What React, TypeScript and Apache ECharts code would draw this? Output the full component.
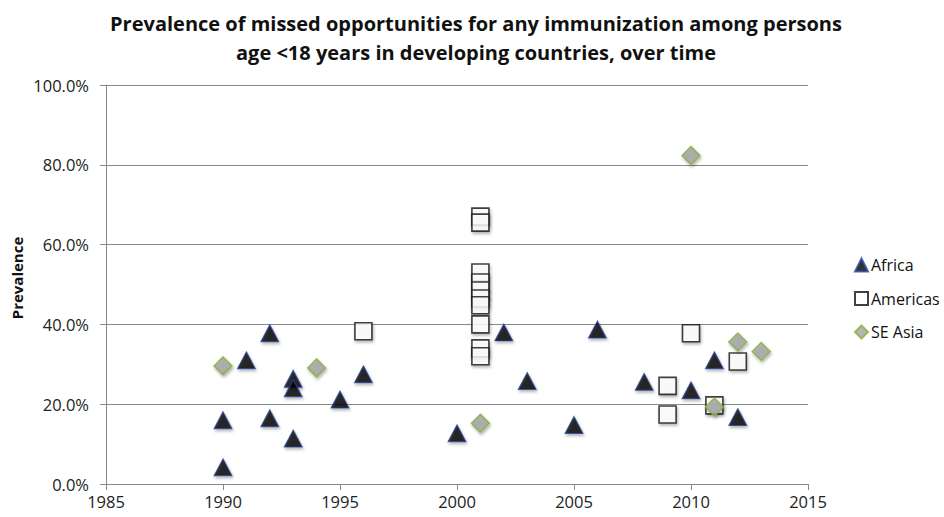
import React, { useEffect, useRef } from "react";
import * as echarts from "echarts";

const title = "Prevalence of missed opportunities for any immunization among persons\nage <18 years in developing countries, over time";
const yAxisName = "Prevalence";
const xTicks = [1985, 1990, 1995, 2000, 2005, 2010, 2015];

// [year, prevalence %]
const africa: [number, number][] = [
  [1990, 16.0], [1990, 4.2], [1991, 31.0], [1992, 37.8], [1992, 16.5],
  [1993, 26.4], [1993, 24.0], [1993, 11.4], [1995, 21.2], [1996, 27.5],
  [2000, 12.7], [2002, 38.0], [2003, 25.8], [2005, 14.8], [2006, 38.7],
  [2008, 25.6], [2010, 23.5], [2011, 31.0], [2012, 16.8],
];
const americas: [number, number][] = [
  [1996, 38.3], [2001, 67.0], [2001, 65.5], [2001, 53.0], [2001, 50.5],
  [2001, 48.5], [2001, 46.5], [2001, 44.8], [2001, 40.0], [2001, 34.0],
  [2001, 32.0], [2009, 24.6], [2009, 17.4], [2010, 37.8], [2011, 19.7],
  [2012, 30.7],
];
const seAsia: [number, number][] = [
  [1990, 29.6], [1994, 29.1], [2001, 15.2], [2010, 82.3], [2011, 19.3],
  [2012, 35.6], [2013, 33.2],
];

export default function App() {
  const ref = useRef<HTMLDivElement>(null);
  useEffect(() => {
    if (!ref.current) return;
    const chart = echarts.init(ref.current, null, { renderer: "svg" });
    const font = "'Open Sans', 'Liberation Sans', sans-serif";
    const shadow = { shadowBlur: 3, shadowOffsetX: 1, shadowOffsetY: 2, shadowColor: "rgba(0,0,0,0.35)" };
    chart.setOption({
      animation: false,
      backgroundColor: "#fff",
      textStyle: { fontFamily: font },
      title: {
        text: title,
        left: 471,
        textAlign: "center",
        top: 4,
        textStyle: { fontFamily: font, fontWeight: "bold", fontSize: 20, lineHeight: 29, color: "#111" },
      },
      graphic: [
        {
          type: "text",
          x: 17,
          y: 278,
          rotation: Math.PI / 2,
          style: {
            text: yAxisName,
            fontFamily: font,
            fontWeight: "bold",
            fontSize: 15,
            fill: "#111",
            align: "center",
            verticalAlign: "middle",
          },
        },
      ],
      grid: { left: 106, right: 136, top: 85, bottom: 33 },
      xAxis: {
        type: "value",
        min: 1985,
        max: 2015,
        interval: 5,
        axisLine: { show: true, lineStyle: { color: "#888", width: 1 } },
        axisTick: { show: true, length: 6, lineStyle: { color: "#888" } },
        splitLine: { show: false },
        axisLabel: {
          color: "#222", fontSize: 16.5, margin: 9, fontFamily: font,
          formatter: (v: number) => (xTicks.includes(v) ? String(v) : ""),
        },
      },
      yAxis: {
        type: "value",
        min: 0,
        max: 100,
        interval: 20,
        axisLine: { show: true, lineStyle: { color: "#888", width: 1 } },
        axisTick: { show: true, length: 6, lineStyle: { color: "#888" } },
        splitLine: { show: true, lineStyle: { color: "#888", width: 1 } },
        axisLabel: {
          color: "#222", fontSize: 16.5, margin: 17, fontFamily: font,
          formatter: (v: number) => v.toFixed(1) + "%",
        },
      },
      legend: {
        orient: "vertical",
        left: 849,
        top: 252,
        itemGap: 17.5,
        itemWidth: 13,
        itemHeight: 13,
        textStyle: { fontSize: 16, color: "#111", fontFamily: font, padding: [0, 0, 0, -2] },
        data: ["Africa", "Americas", "SE Asia"],
      },
      series: [
        {
          name: "Americas",
          type: "scatter",
          data: americas,
          symbol: "rect",
          symbolSize: 17,
          itemStyle: { color: "#fff", borderColor: "#111", borderWidth: 1.6, ...shadow },
          z: 2,
        },
        {
          name: "Africa",
          type: "scatter",
          data: africa,
          symbol: "triangle",
          symbolSize: [18, 17],
          itemStyle: { color: "#000", borderColor: "#2b47a8", borderWidth: 1, ...shadow },
          z: 3,
        },
        {
          name: "SE Asia",
          type: "scatter",
          data: seAsia,
          symbol: "diamond",
          symbolSize: 18,
          itemStyle: { color: "#a3a3a3", borderColor: "#86b03a", borderWidth: 1.5, ...shadow },
          z: 4,
        },
      ],
    });
    return () => chart.dispose();
  }, []);
  return <div ref={ref} style={{ position: "fixed", left: 0, top: 0, width: 944, height: 517 }} />;
}
